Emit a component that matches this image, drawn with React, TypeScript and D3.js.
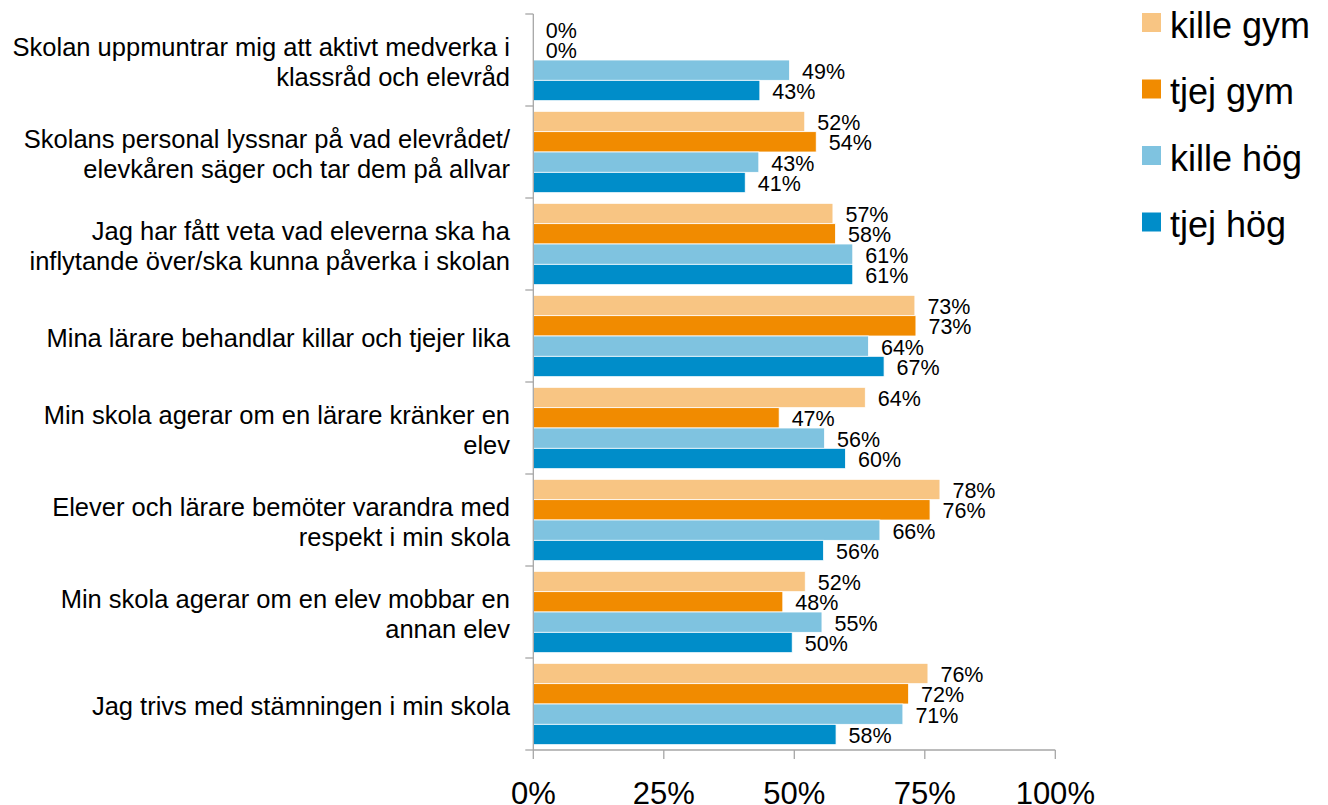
import React from "react";
import * as d3 from "d3";

const categories: string[][] = [
  ["Skolan uppmuntrar mig att aktivt medverka i", "klassråd och elevråd"],
  ["Skolans personal lyssnar på vad elevrådet/", "elevkåren säger och tar dem på allvar"],
  ["Jag har fått veta vad eleverna ska ha", "inflytande över/ska kunna påverka i skolan"],
  ["Mina lärare behandlar killar och tjejer lika"],
  ["Min skola agerar om en lärare kränker en", "elev"],
  ["Elever och lärare bemöter varandra med", "respekt i min skola"],
  ["Min skola agerar om en elev mobbar en", "annan elev"],
  ["Jag trivs med stämningen i min skola"],
];

const seriesNames = ["kille gym", "tjej gym", "kille hög", "tjej hög"];
const seriesColors = ["#F8C583", "#F18B00", "#7FC3E0", "#008DC9"];

const killeGym = [0, 52.0, 57.4, 73.1, 63.6, 77.9, 52.1, 75.6];
const tjejGym = [0, 54.2, 57.9, 73.3, 47.1, 76.0, 47.8, 71.9];
const killeHog = [49.1, 43.2, 61.2, 64.2, 55.8, 66.4, 55.3, 70.8];
const tjejHog = [43.4, 40.6, 61.2, 67.2, 59.8, 55.6, 49.6, 58.0];

const xTicks = [0, 25, 50, 75, 100];

const FONT = "Liberation Sans, Arial, Helvetica, sans-serif";

export default function App() {
  const W = 1328;
  const H = 805;
  const x0 = 533.3;
  const x1 = 1055.3;
  const yTop = 14;
  const yBot = 750;

  const seriesData = [killeGym, tjejGym, killeHog, tjejHog];
  const catIdx = categories.map((_, i) => String(i));

  const x = d3.scaleLinear().domain([0, 100]).range([x0, x1]);
  const y = d3
    .scaleBand<string>()
    .domain(catIdx)
    .range([yTop, yBot])
    .paddingInner(0.116)
    .paddingOuter(0.058);
  const ys = d3
    .scaleBand<string>()
    .domain(seriesNames)
    .range([0, y.bandwidth()]);

  const step = y.step();
  const axisColor = "#A6A6A6";

  return (
    <svg
      width={W}
      height={H}
      style={{ position: "absolute", left: 0, top: 0, background: "#fff" }}
      fontFamily={FONT}
    >
      {/* bars */}
      {catIdx.map((c, ci) => (
        <g key={c} transform={`translate(0,${y(c)})`}>
          {seriesNames.map((s, si) => {
            const v = seriesData[si][ci];
            const by = ys(s) as number;
            return (
              <g key={s}>
                {v > 0 && (
                  <rect
                    x={x(0)}
                    y={by}
                    width={x(v) - x(0)}
                    height={ys.bandwidth()}
                    fill={seriesColors[si]}
                    stroke="#ffffff"
                    strokeWidth={0.8}
                  />
                )}
                <text
                  x={x(v) + 12.5}
                  y={by + ys.bandwidth() / 2 + 8.5}
                  fontSize={21.5}
                  fill="#000"
                >
                  {Math.round(v)}%
                </text>
              </g>
            );
          })}
        </g>
      ))}

      {/* y axis */}
      <line x1={x0} x2={x0} y1={yTop} y2={yBot} stroke={axisColor} strokeWidth={1.3} />
      {d3.range(categories.length + 1).map((i) => (
        <line
          key={i}
          x1={x0 - 8}
          x2={x0}
          y1={yTop + i * step}
          y2={yTop + i * step}
          stroke={axisColor}
          strokeWidth={1.3}
        />
      ))}

      {/* x axis */}
      <line x1={x0} x2={x1} y1={yBot} y2={yBot} stroke={axisColor} strokeWidth={1.3} />
      {xTicks.map((t) => (
        <g key={t}>
          <line x1={x(t)} x2={x(t)} y1={yBot} y2={yBot + 9} stroke={axisColor} strokeWidth={1.3} />
          <text x={x(t)} y={804} fontSize={31} textAnchor="middle" fill="#000">
            {t}%
          </text>
        </g>
      ))}

      {/* category labels */}
      {categories.map((lines, ci) => {
        const cy = (y(String(ci)) as number) - (y.step() * y.paddingInner()) / 2 + step / 2 + 2;
        const lh = 30.4;
        const startY = cy - ((lines.length - 1) * lh) / 2;
        return (
          <text key={ci} x={510} textAnchor="end" fontSize={25.5} fill="#000">
            {lines.map((l, li) => (
              <tspan key={li} x={510} y={startY + li * lh + 9}>
                {l}
              </tspan>
            ))}
          </text>
        );
      })}

      {/* legend */}
      {seriesNames.map((s, si) => (
        <g key={s} transform={`translate(1142,${13 + si * 66.5})`}>
          <rect x={0} y={0} width={19} height={19} fill={seriesColors[si]} />
          <text x={28} y={24.5} fontSize={36} fill="#000">
            {s}
          </text>
        </g>
      ))}
    </svg>
  );
}
